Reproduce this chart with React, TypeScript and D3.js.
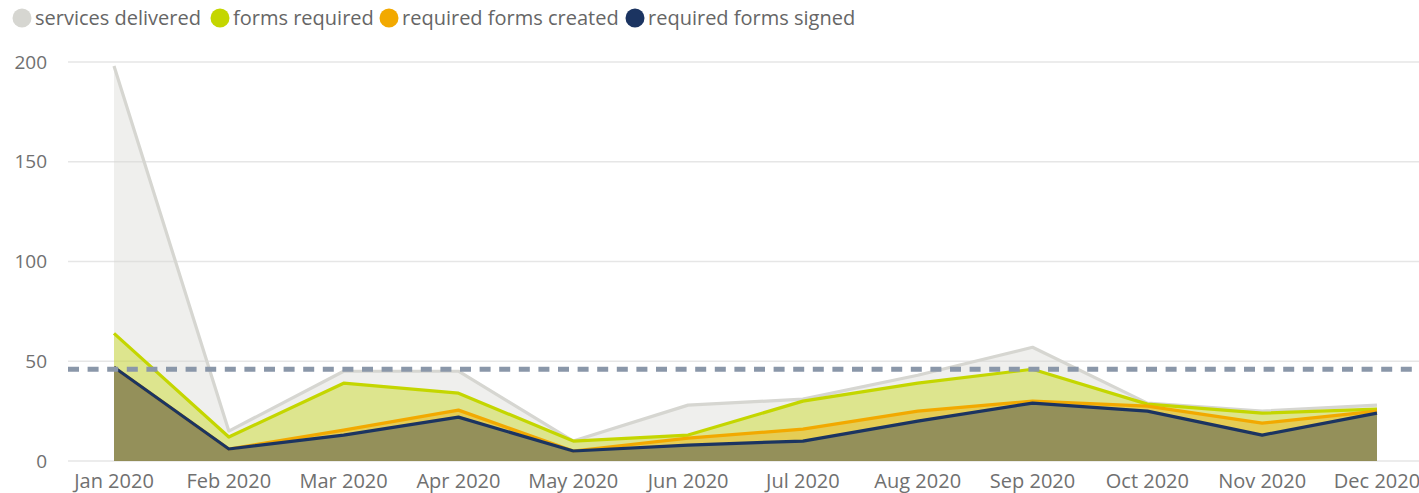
import React from "react";
import * as d3 from "d3";

const months = ["Jan 2020","Feb 2020","Mar 2020","Apr 2020","May 2020","Jun 2020","Jul 2020","Aug 2020","Sep 2020","Oct 2020","Nov 2020","Dec 2020"];
const servicesDelivered = [198, 15, 45, 45, 10, 28, 31, 43, 57, 29, 25, 28];
const formsRequired = [64, 12, 39, 34, 10, 13, 30, 39, 46, 28.5, 24, 26];
const formsCreated = [47, 6, 15.5, 25.5, 5, 11.5, 16, 25, 30, 27.5, 19, 25];
const formsSigned = [47, 6, 13, 22, 5, 8, 10, 20, 29, 25, 13, 24];
const referenceValue = 46;
const yTicks = [0, 50, 100, 150, 200];

const seriesNames = ["services delivered", "forms required", "required forms created", "required forms signed"];
const seriesData = [servicesDelivered, formsRequired, formsCreated, formsSigned];
const seriesColors = ["#d6d6d1", "#c4d600", "#f2a900", "#1b3461"];

const W = 1419, H = 493;
const FONT = "'Open Sans', 'Noto Sans', sans-serif";

export default function App() {
  const x = d3.scalePoint<string>().domain(months).range([114, 1377]);
  const y = d3.scaleLinear().domain([0, 200]).range([461, 62]);
  const area = d3.area<number>().x((_, i) => x(months[i])!).y0(y(0)).y1(d => y(d));
  const line = d3.line<number>().x((_, i) => x(months[i])!).y(d => y(d));

  const legendX = [22, 220, 389, 635];

  return (
    <svg width={W} height={H} style={{ position: "absolute", left: 0, top: 0, background: "#fff" }} fontFamily={FONT}>
      {/* grid */}
      {yTicks.map(t => (
        <g key={t}>
          <line x1={68} x2={W} y1={y(t)} y2={y(t)} stroke="#e6e6e6" strokeWidth={1.5} />
          <text x={47} y={y(t)} dy="0.35em" textAnchor="end" fontSize={19} fill="#707070">{t}</text>
        </g>
      ))}
      {/* areas */}
      {seriesData.map((d, i) => (
        <path key={"a" + i} d={area(d)!} fill={seriesColors[i]} fillOpacity={0.4} />
      ))}
      {/* lines */}
      {seriesData.map((d, i) => (
        <path key={"l" + i} d={line(d)!} fill="none" stroke={seriesColors[i]} strokeWidth={3.2} strokeLinejoin="round" />
      ))}
      {/* reference line */}
      <line x1={68} x2={W} y1={y(referenceValue)} y2={y(referenceValue)} stroke="#8a97a9" strokeWidth={5} strokeDasharray="11 8.6" />
      {/* x labels */}
      {months.map(m => (
        <text key={m} x={x(m)!} y={481} dy="0.35em" textAnchor="middle" fontSize={20} fill="#707070">{m}</text>
      ))}
      {/* legend */}
      {seriesNames.map((n, i) => (
        <g key={n}>
          <circle cx={legendX[i]} cy={18} r={9.5} fill={seriesColors[i]} />
          <text x={legendX[i] + 13} y={18} dy="0.35em" fontSize={20} fill="#666">{n}</text>
        </g>
      ))}
    </svg>
  );
}
